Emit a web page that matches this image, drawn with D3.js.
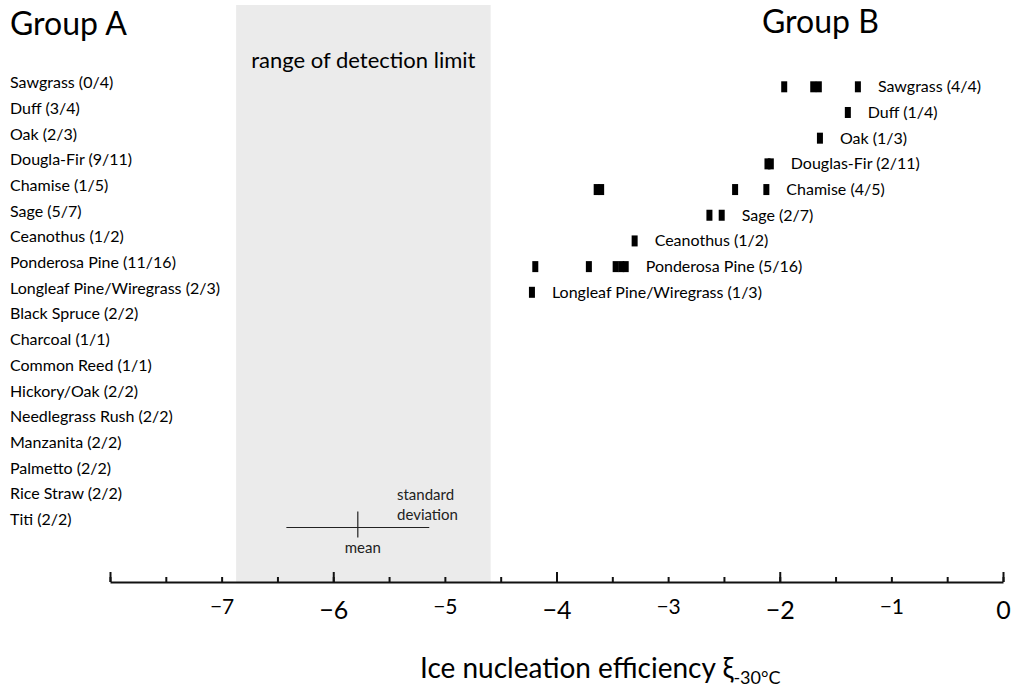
<!DOCTYPE html>
<html>
<head>
<meta charset="utf-8">
<script src="https://cdn.jsdelivr.net/npm/d3@7"></script>
<style>
  html, body { margin: 0; padding: 0; background: #fff; }
  svg { display: block; font-family: Lato, "Open Sans", sans-serif; }
</style>
</head>
<body>
<svg id="chart" width="1011" height="687"></svg>
<script>
// Fuel types, in row order from top to bottom
const rowNames = [
  "Sawgrass", "Duff", "Oak", "Douglas-Fir", "Chamise", "Sage", "Ceanothus",
  "Ponderosa Pine", "Longleaf Pine/Wiregrass", "Black Spruce", "Charcoal",
  "Common Reed", "Hickory/Oak", "Needlegrass Rush", "Manzanita", "Palmetto",
  "Rice Straw", "Titi"
];

// Group A: samples below the detection limit (count / total)
const groupALabels = [
  "Sawgrass (0/4)", "Duff (3/4)", "Oak (2/3)", "Dougla-Fir (9/11)", "Chamise (1/5)",
  "Sage (5/7)", "Ceanothus (1/2)", "Ponderosa Pine (11/16)", "Longleaf Pine/Wiregrass (2/3)",
  "Black Spruce (2/2)", "Charcoal (1/1)", "Common Reed (1/1)", "Hickory/Oak (2/2)",
  "Needlegrass Rush (2/2)", "Manzanita (2/2)", "Palmetto (2/2)", "Rice Straw (2/2)", "Titi (2/2)"
];

// Group B: fuels with measurable ice nucleation efficiency
const groupBNames = [
  "Sawgrass", "Duff", "Oak", "Douglas-Fir", "Chamise", "Sage", "Ceanothus",
  "Ponderosa Pine", "Longleaf Pine/Wiregrass"
];
const groupBLabels = [
  "Sawgrass (4/4)", "Duff (1/4)", "Oak (1/3)", "Douglas-Fir (2/11)", "Chamise (4/5)",
  "Sage (2/7)", "Ceanothus (1/2)", "Ponderosa Pine (5/16)", "Longleaf Pine/Wiregrass (1/3)"
];
const groupBValues = [
  [-1.96, -1.70, -1.65, -1.30],
  [-1.39],
  [-1.64],
  [-2.11, -2.08],
  [-3.64, -3.60, -2.40, -2.12],
  [-2.63, -2.52],
  [-3.30],
  [-4.19, -3.71, -3.47, -3.42, -3.38],
  [-4.22]
];

// Detection limit range and reference mean / standard deviation
const detectionRange = [-6.87, -4.59];
const refMean = -5.78;
const refSD = 0.64;

// Axis ticks and labels
const xDomain = [-8, 0];
const majorTicks = [-8, -6, -4, -2, 0];
const labelTicks = [-7, -6, -5, -4, -3, -2, -1, 0];

const svg = d3.select("#chart");

const x = d3.scaleLinear().domain(xDomain).range([110, 1003]);
const y = d3.scalePoint().domain(rowNames).range([88.3, 525]);
const axisY = 582;
const ink = "#000";

// Detection-limit band
svg.append("rect")
  .attr("x", x(detectionRange[0]))
  .attr("y", 5)
  .attr("width", x(detectionRange[1]) - x(detectionRange[0]))
  .attr("height", axisY - 5)
  .attr("fill", "#ebebeb");

svg.append("text")
  .attr("x", (x(detectionRange[0]) + x(detectionRange[1])) / 2)
  .attr("y", 68)
  .attr("text-anchor", "middle")
  .attr("font-size", 22)
  .attr("fill", ink)
  .text("range of detection limit");

// Group headings
svg.append("text").attr("x", 10).attr("y", 35)
  .attr("font-size", 32).attr("fill", ink).text("Group A");
svg.append("text").attr("x", 762).attr("y", 33)
  .attr("font-size", 32).attr("fill", ink).text("Group B");

// Group A labels
svg.append("g").selectAll("text")
  .data(rowNames)
  .join("text")
  .attr("x", 10)
  .attr("y", d => y(d))
  .attr("font-size", 16)
  .attr("fill", ink)
  .text((d, i) => groupALabels[i]);

// Group B markers
const points = groupBNames.flatMap((name, i) =>
  groupBValues[i].map(v => ({ name, v })));

const mW = 6, mH = 11;
svg.append("g").selectAll("rect")
  .data(points)
  .join("rect")
  .attr("x", d => x(d.v) - mW / 2)
  .attr("y", d => y(d.name) - 1.5 - mH / 2)
  .attr("width", mW)
  .attr("height", mH)
  .attr("fill", "#000");

// Group B labels, right of each row's highest value
svg.append("g").selectAll("text")
  .data(groupBNames)
  .join("text")
  .attr("x", (d, i) => x(d3.max(groupBValues[i])) + 20)
  .attr("y", d => y(d) + 4)
  .attr("font-size", 16)
  .attr("fill", ink)
  .text((d, i) => groupBLabels[i]);

// Mean / standard deviation key
const keyY = y("Titi") + 2.5;
const key = svg.append("g").attr("stroke", "#222").attr("stroke-width", 1.2);
key.append("line")
  .attr("x1", x(refMean - refSD)).attr("x2", x(refMean + refSD))
  .attr("y1", keyY).attr("y2", keyY);
key.append("line")
  .attr("x1", x(refMean)).attr("x2", x(refMean))
  .attr("y1", keyY - 16).attr("y2", keyY + 10);
svg.append("text").attr("x", x(refMean) + 5).attr("y", keyY + 25)
  .attr("text-anchor", "middle").attr("font-size", 15).attr("fill", "#222").text("mean");
svg.append("text").attr("x", 397).attr("y", keyY - 28)
  .attr("font-size", 15).attr("fill", "#222").text("standard");
svg.append("text").attr("x", 397).attr("y", keyY - 8)
  .attr("font-size", 15).attr("fill", "#222").text("deviation");

// X axis: half-unit minor ticks, taller ticks at even values
const axisG = svg.append("g").attr("transform", `translate(0,${axisY})`);
axisG.append("g")
  .call(d3.axisBottom(x).tickValues(d3.range(-8, 0.001, 0.5)).tickSize(-5).tickSizeOuter(0).tickFormat(""))
  .call(g => g.select(".domain").attr("stroke-width", 2.2).attr("stroke", "#111"))
  .call(g => g.selectAll(".tick line").attr("stroke-width", 2).attr("stroke", "#111"));
axisG.append("g")
  .call(d3.axisBottom(x).tickValues(majorTicks).tickSize(-10).tickSizeOuter(0).tickFormat(""))
  .call(g => g.select(".domain").remove())
  .call(g => g.selectAll(".tick line").attr("stroke-width", 2).attr("stroke", "#111"));
axisG.append("g")
  .call(d3.axisBottom(x).tickValues(labelTicks).tickSize(0).tickPadding(0)
    .tickFormat(d => d === 0 ? "0" : "\u2212" + Math.abs(d)))
  .call(g => g.select(".domain").remove())
  .call(g => g.selectAll(".tick text")
    .attr("fill", ink)
    .attr("font-family", "Lato, 'Open Sans', sans-serif")
    .attr("dy", null)
    .attr("y", d => d % 2 === 0 ? 37 : 32)
    .attr("font-size", d => d % 2 === 0 ? 25 : 21));

// Axis title with subscript
const title = svg.append("text")
  .attr("x", 420).attr("y", 678)
  .attr("font-size", 28).attr("fill", ink);
title.append("tspan").text("Ice nucleation efficiency \u03BE");
title.append("tspan").attr("dy", 6).attr("font-size", 18).text("-30\u00B0C");
</script>
</body>
</html>
